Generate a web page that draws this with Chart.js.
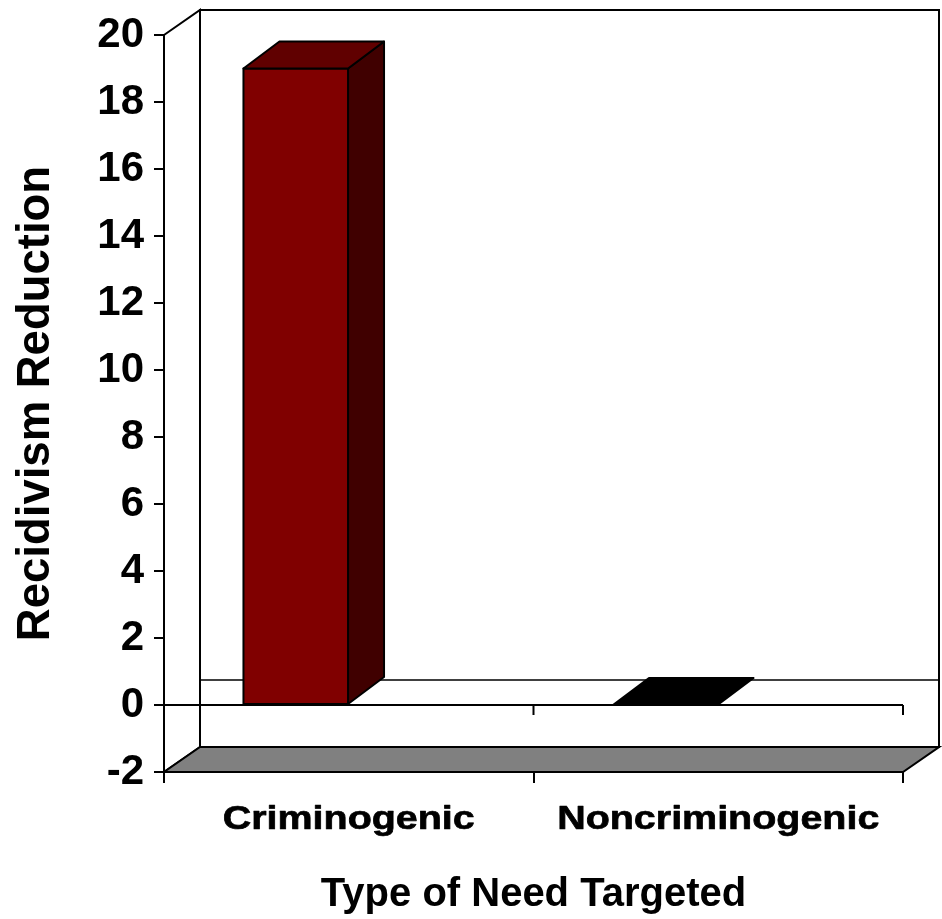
<!DOCTYPE html>
<html>
<head>
<meta charset="utf-8">
<title>Recidivism Reduction by Type of Need Targeted</title>
<script src="https://cdn.jsdelivr.net/npm/chart.js@4.4.1/dist/chart.umd.min.js"></script>
<style>
  html, body { margin: 0; padding: 0; background: #fff; }
</style>
</head>
<body>
<canvas id="needChart" width="942" height="919"></canvas>
<script>
// Chart data
const categories = ['Criminogenic', 'Noncriminogenic'];
const reductionValues = [19, 0];
const yTickValues = [-2, 0, 2, 4, 6, 8, 10, 12, 14, 16, 18, 20];

// Look of the 3D boxes, one entry per category
const frontColors = ['#800000', '#000000'];
const topColors = ['#600000', '#000000'];
const sideColors = ['#400000', '#000000'];

const FONT = '"Liberation Sans", Arial, sans-serif';
const WALL_DX = 36, WALL_DY = 25;   // depth of the back wall
const BAR_DX = 36, BAR_DY = 27;     // depth of a bar
const BAR_SHIFT = -53;              // bars sit left of the category centre
const LABEL_STRETCH = 1.16;         // category labels are drawn wide

function poly(ctx, pts, fill) {
  ctx.beginPath();
  ctx.moveTo(pts[0][0], pts[0][1]);
  for (let i = 1; i < pts.length; i++) ctx.lineTo(pts[i][0], pts[i][1]);
  ctx.closePath();
  if (fill) { ctx.fillStyle = fill; ctx.fill(); }
  ctx.stroke();
}

const box3d = {
  id: 'box3d',
  beforeDraw(chart) {
    const { ctx, chartArea: a, scales: { y } } = chart;
    const top = y.getPixelForValue(y.max);
    const bot = y.getPixelForValue(y.min);
    const zero = y.getPixelForValue(0);
    ctx.save();
    ctx.strokeStyle = '#000';
    ctx.lineWidth = 2;
    // back wall
    poly(ctx, [[a.left + WALL_DX, top - WALL_DY], [a.right + WALL_DX, top - WALL_DY],
               [a.right + WALL_DX, bot - WALL_DY], [a.left + WALL_DX, bot - WALL_DY]], '#fff');
    // side wall
    poly(ctx, [[a.left, top], [a.left + WALL_DX, top - WALL_DY],
               [a.left + WALL_DX, bot - WALL_DY], [a.left, bot]], '#fff');
    // floor
    poly(ctx, [[a.left, bot], [a.right, bot],
               [a.right + WALL_DX, bot - WALL_DY], [a.left + WALL_DX, bot - WALL_DY]], '#808080');
    // zero line on the back wall
    ctx.lineWidth = 1.5;
    ctx.beginPath();
    ctx.moveTo(a.left + WALL_DX, zero - WALL_DY);
    ctx.lineTo(a.right + WALL_DX, zero - WALL_DY);
    ctx.stroke();
    ctx.restore();
  },
  beforeDatasetsDraw(chart) {
    const { ctx, chartArea: a, scales: { x, y } } = chart;
    const zero = y.getPixelForValue(0);
    const band = (a.right - a.left) / categories.length;
    ctx.save();
    ctx.strokeStyle = '#000';
    ctx.lineWidth = 2;
    ctx.beginPath();
    ctx.moveTo(a.left - 10, zero);
    ctx.lineTo(a.right, zero);
    categories.forEach((c, i) => {
      const bx = x.getPixelForValue(i) + band / 2;
      ctx.moveTo(bx, zero);
      ctx.lineTo(bx, zero + 10);
    });
    ctx.stroke();
    ctx.restore();
  },
  afterDatasetsDraw(chart) {
    const { ctx, chartArea: a, scales: { x } } = chart;
    const meta = chart.getDatasetMeta(0);
    ctx.save();
    ctx.strokeStyle = '#000';
    ctx.lineWidth = 2;
    ctx.lineJoin = 'round';
    meta.data.forEach((bar, i) => {
      const { x: cx, y: yTop, base, width } = bar.getProps(['x', 'y', 'base', 'width'], true);
      const l = cx - width / 2 + BAR_SHIFT;
      const r = l + width;
      if (base - yTop > 0.5) {
        poly(ctx, [[r, yTop], [r + BAR_DX, yTop - BAR_DY], [r + BAR_DX, base - BAR_DY], [r, base]], sideColors[i]);
        poly(ctx, [[l, yTop], [r, yTop], [r, base], [l, base]], frontColors[i]);
      }
      poly(ctx, [[l, yTop], [l + BAR_DX, yTop - BAR_DY], [r + BAR_DX, yTop - BAR_DY], [r, yTop]], topColors[i]);
    });

    // category labels, stretched sideways like the original
    ctx.fillStyle = '#000';
    ctx.lineWidth = 0.7;
    ctx.font = 'bold 34px ' + FONT;
    ctx.textAlign = 'center';
    ctx.textBaseline = 'alphabetic';
    categories.forEach((c, i) => {
      ctx.save();
      ctx.translate(x.getPixelForValue(i), a.bottom + 57);
      ctx.scale(LABEL_STRETCH, 1);
      ctx.fillText(c, 0, 0);
      ctx.strokeText(c, 0, 0);
      ctx.restore();
    });
    ctx.restore();
  }
};

new Chart(document.getElementById('needChart'), {
  type: 'bar',
  data: {
    labels: categories,
    datasets: [{
      label: 'Recidivism Reduction',
      data: reductionValues,
      backgroundColor: 'rgba(0,0,0,0)',
      borderWidth: 0,
      categoryPercentage: 1,
      barPercentage: 0.283
    }]
  },
  options: {
    responsive: false,
    animation: false,
    devicePixelRatio: 1,
    layout: { padding: { top: 35, right: 39, bottom: 0, left: 0 } },
    plugins: { legend: { display: false }, tooltip: { enabled: false } },
    scales: {
      x: {
        offset: true,
        grid: { drawOnChartArea: false, tickLength: 11, color: '#000', lineWidth: 2, offset: true },
        border: { color: '#000', width: 2 },
        ticks: { display: false },
        title: {
          display: true, text: 'Type of Need Targeted', color: '#000',
          font: { family: FONT, size: 40, weight: 'bold', lineHeight: 1 },
          padding: { top: 0, bottom: 4 }
        },
        afterFit: (s) => { s.height = 147; }
      },
      y: {
        min: -2,
        max: 20,
        afterBuildTicks: (s) => { s.ticks = yTickValues.map(v => ({ value: v })); },
        grid: { drawOnChartArea: false, tickLength: 10, color: '#000', lineWidth: 2 },
        border: { color: '#000', width: 2 },
        ticks: {
          color: '#000', padding: 10,
          font: { family: FONT, size: 42, weight: 'bold', lineHeight: 1 }
        },
        title: {
          display: true, text: 'Recidivism Reduction', color: '#000',
          font: { family: FONT, size: 45.5, weight: 'bold', lineHeight: 1 },
          padding: { top: 14, bottom: 0 }
        },
        afterFit: (s) => { s.width = 164; }
      }
    }
  },
  plugins: [box3d]
});
</script>
</body>
</html>
